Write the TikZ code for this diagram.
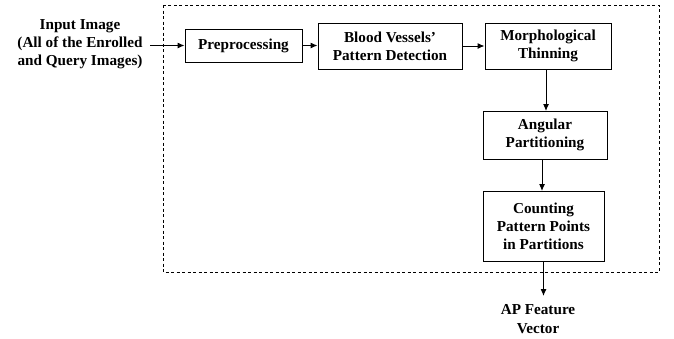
\documentclass[tikz,border=0pt]{standalone}
\usepackage{fontspec}
\setmainfont{Liberation Serif}
\usetikzlibrary{arrows.meta,calc}
\begin{document}
\begin{tikzpicture}[x=1pt,y=-1pt,
  every node/.style={font=\bfseries\fontsize{15.2}{18.2}\selectfont, align=center, inner sep=0pt},
  blk/.style={draw, line width=1pt, minimum width=#1},
  arr/.style={-{Latex[length=7pt,width=6pt]}, line width=1pt},
  frame/.style={draw, line width=0.9pt, dash pattern=on 3pt off 2.5pt}]
\useasboundingbox (0,0) rectangle (674,338);
\draw[frame] (163,5) rectangle (659,272);
\node (in) at (80,44) {Input Image\\(All of the Enrolled\\and Query Images)};
\node[blk=117pt, minimum height=33pt] (pre) at (243.5,45.5) {Preprocessing};
\node[blk=144pt, minimum height=46pt] (bv) at (390,46) {Blood Vessels'\\Pattern Detection};
\node[blk=126pt, minimum height=46pt] (mt) at (548,46) {Morphological\\Thinning};
\node[blk=124pt, minimum height=48pt] (ap) at (545,135) {Angular\\Partitioning};
\node[blk=121pt, minimum height=70pt] (cp) at (543.5,226) {Counting\\Pattern Points\\in Partitions};
\node (out) at (538,319) {AP Feature\\Vector};
\coordinate (instart) at (150,45.5);
\coordinate (outtop) at (543.5,296);
\draw[arr] (instart) -- (pre.west);
\draw[arr] (pre.east) -- (bv.west |- pre.east);
\draw[arr] (bv.east) -- (mt.west);
\draw[arr] (546,69) -- (546,111);
\draw[arr] (542,159) -- (542,191);
\draw[arr] (cp.south) -- (outtop);
\end{tikzpicture}
\end{document}
